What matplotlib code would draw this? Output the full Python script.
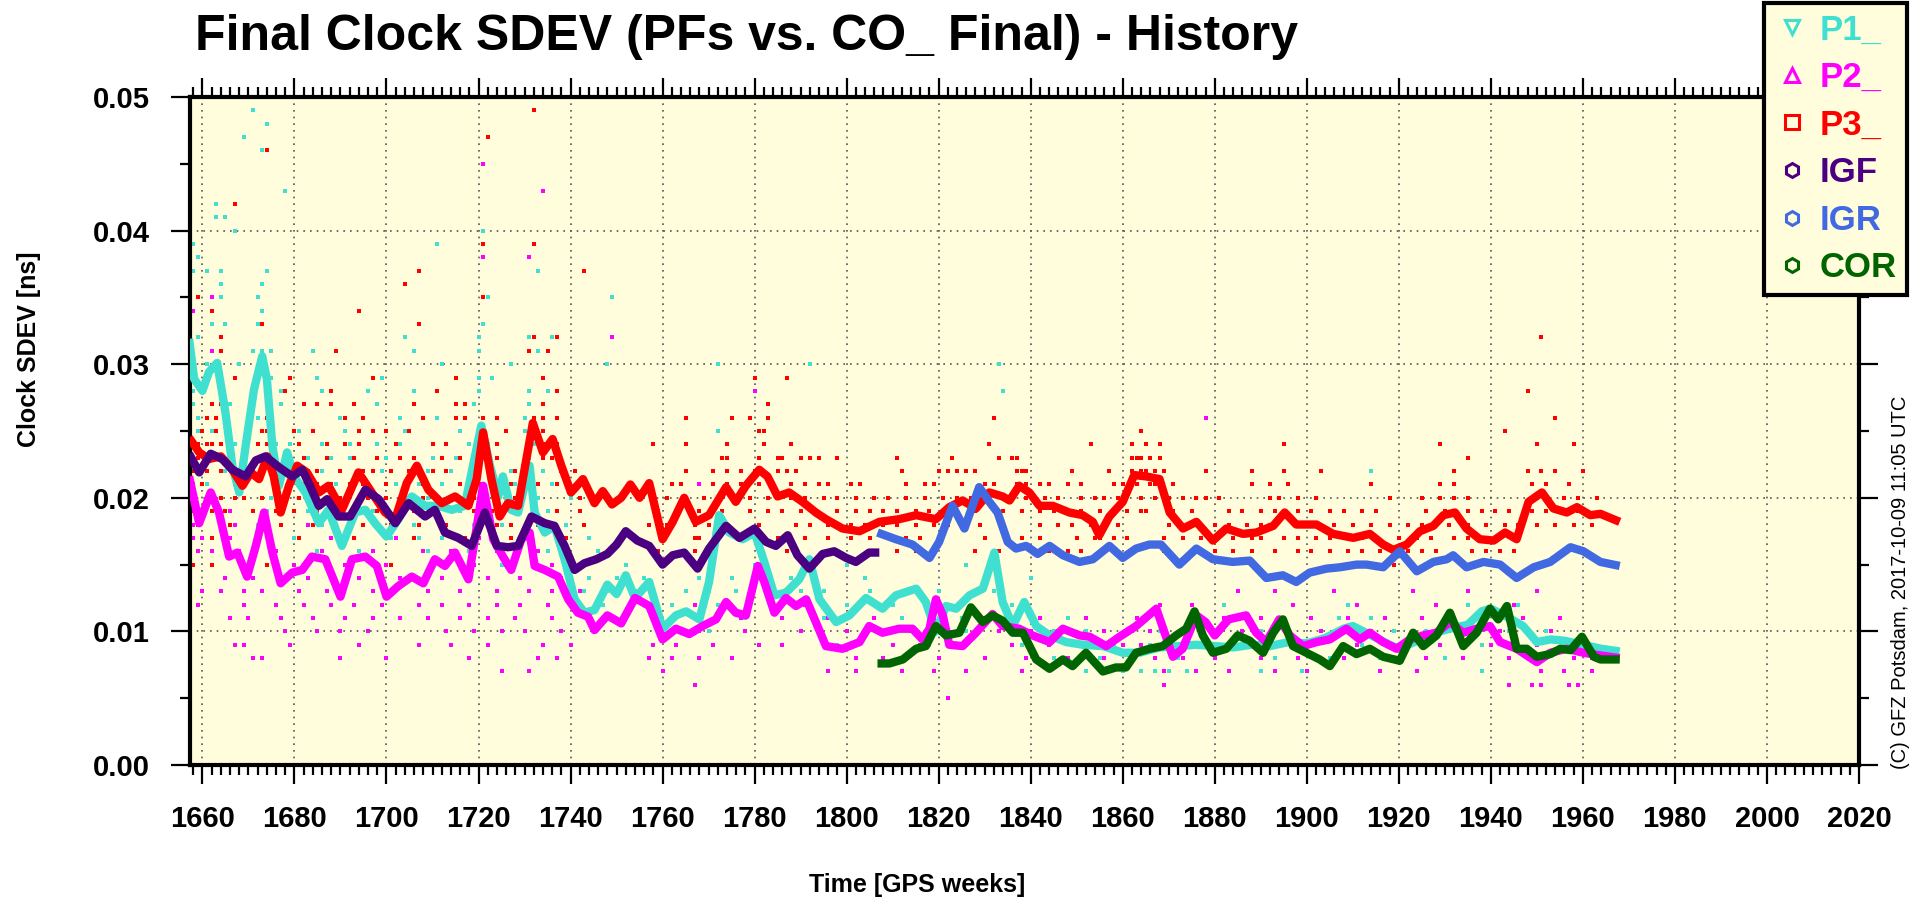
import numpy as np
import matplotlib
matplotlib.use("Agg")
import matplotlib.pyplot as plt
from matplotlib.lines import Line2D
from matplotlib.ticker import MultipleLocator, FormatStrFormatter

plt.rcParams['font.family'] = ['Liberation Sans', 'DejaVu Sans']

# ---- smoothed series (GPS week, clock SDEV [ns]) ----
p1_weeks = [1657.1, 1658.2, 1660, 1661.4, 1663.2, 1665, 1666.5, 1668, 1669.4, 1671.2, 1673, 1674, 1675.2,
            1676.6, 1678.4, 1679.9, 1682.4, 1685.3, 1687.4, 1690.3, 1693.2, 1695.4, 1697.5, 1700, 1702.6,
            1705.5, 1708.4, 1711.3, 1714.2, 1717, 1718.8, 1720.6, 1722.5, 1724.3, 1725.3, 1727.1, 1728.6,
            1731.1, 1732.2, 1734.4, 1736.5, 1738.7, 1740.9, 1743, 1745.2, 1748, 1750, 1752, 1754, 1757.1,
            1760, 1762.9, 1765.1, 1768, 1770.1, 1772.3, 1774.5, 1777.4, 1780, 1782.1, 1784.3, 1786.8,
            1789.7, 1791.9, 1794.1, 1797.7, 1800.6, 1804.2, 1807.8, 1810.7, 1815.1, 1817.2, 1819.4, 1821.6,
            1823.8, 1826.7, 1829.6, 1832.1, 1833.9, 1836.1, 1838.6, 1841.2, 1844.1, 1847.7, 1851.3, 1855.7,
            1860, 1863.6, 1868, 1872, 1876, 1880, 1884, 1888, 1892, 1896, 1900, 1904, 1908, 1910, 1914,
            1918, 1920, 1924, 1927, 1931, 1935, 1938, 1940, 1944, 1947, 1950, 1953, 1956, 1960, 1964, 1968]
p1_vals = [0.0319, 0.0289, 0.0280, 0.0294, 0.0301, 0.0264, 0.0224, 0.0204, 0.0239, 0.0281, 0.0306, 0.0289, 0.0239,
           0.0209, 0.0234, 0.0216, 0.0204, 0.0181, 0.0191, 0.0164, 0.0189, 0.0191, 0.0181, 0.0171, 0.0184,
           0.0201, 0.0194, 0.0194, 0.0191, 0.0194, 0.0224, 0.0254, 0.0224, 0.0201, 0.0216, 0.0191, 0.0189,
           0.0224, 0.0189, 0.0174, 0.0179, 0.0154, 0.0124, 0.0114, 0.0116, 0.0135, 0.0128, 0.0142, 0.0125, 0.0137,
           0.0102, 0.0112, 0.0115, 0.0109, 0.0137, 0.0187, 0.0174, 0.0169, 0.0174, 0.0152, 0.0127, 0.0129,
           0.0139, 0.0154, 0.0124, 0.0107, 0.0112, 0.0125, 0.0117, 0.0127, 0.0132, 0.0122, 0.0100, 0.0119,
           0.0117, 0.0127, 0.0132, 0.0159, 0.0122, 0.0104, 0.0122, 0.0104, 0.0097, 0.0092, 0.0090, 0.0089,
           0.0084, 0.0084, 0.0088, 0.0089, 0.0090, 0.0089, 0.0088, 0.0090, 0.0089, 0.0092, 0.0091, 0.0095, 0.0102, 0.0104, 0.0097,
           0.0090, 0.0087, 0.0093, 0.0098, 0.0102, 0.0105, 0.0115, 0.0117, 0.0110, 0.0104, 0.0092, 0.0094, 0.0093, 0.0090, 0.0087, 0.0085]

p2_weeks = [1657.1, 1659.3, 1661.8, 1663.6, 1665.8, 1667.6, 1669.7, 1671.6, 1673.4, 1675.2, 1677, 1679.5, 1681.7,
            1683.8, 1686.7, 1690, 1692.5, 1695.4, 1697.9, 1700, 1702.6, 1705.5, 1708, 1710.5, 1712.7, 1714.9,
            1717.8, 1719.2, 1721, 1723.2, 1725.3, 1727.1, 1729.3, 1731.1, 1732.2, 1734.4, 1737.3, 1739.5,
            1741.6, 1743.8, 1745.2, 1748, 1751, 1754, 1757.1, 1760, 1762.9, 1765.8, 1768.7, 1771.6, 1773.8,
            1775.9, 1778.1, 1780.7, 1782.1, 1784.3, 1786.8, 1789, 1791.2, 1793.3, 1795.5, 1799.1, 1802.8,
            1804.9, 1807.8, 1811.4, 1814.3, 1816.5, 1818, 1819.4, 1820.9, 1822.3, 1825.2, 1828.1, 1831.7,
            1833.9, 1837.5, 1840.4, 1844.1, 1847, 1850.6, 1852.8, 1856.4, 1859.3, 1862.9, 1867.3, 1870.9,
            1873, 1876, 1878, 1880, 1883, 1886.8, 1889, 1891.2, 1894, 1896.3, 1899.2, 1902.1, 1905, 1908.6,
            1911.5, 1913.7, 1916.6, 1919.5, 1922.4, 1925.3, 1928.2, 1931.1, 1934, 1936.9, 1939.8, 1942,
            1945.6, 1950, 1952.9, 1956.5, 1960.1, 1963.8, 1968]
p2_vals = [0.0216, 0.0181, 0.0204, 0.0189, 0.0156, 0.0159, 0.0141, 0.0164, 0.0189, 0.0159, 0.0136, 0.0144, 0.0146,
           0.0156, 0.0154, 0.0126, 0.0154, 0.0156, 0.0149, 0.0126, 0.0134, 0.0141, 0.0136, 0.0154, 0.0149, 0.0159,
           0.0139, 0.0169, 0.0209, 0.0169, 0.0156, 0.0146, 0.0169, 0.0174, 0.0149, 0.0146, 0.0141, 0.0124,
           0.0114, 0.0111, 0.0101, 0.0112, 0.0106, 0.0125, 0.0119, 0.0094, 0.0102, 0.0098, 0.0104, 0.0109, 0.0122,
           0.0114, 0.0112, 0.0149, 0.0137, 0.0114, 0.0125, 0.0119, 0.0124, 0.0107, 0.0089, 0.0087, 0.0092,
           0.0104, 0.0099, 0.0102, 0.0102, 0.0094, 0.0102, 0.0124, 0.0112, 0.0090, 0.0089, 0.0099, 0.0113,
           0.0104, 0.0102, 0.0097, 0.0092, 0.0102, 0.0097, 0.0096, 0.0089, 0.0096, 0.0104, 0.0117, 0.0081,
           0.0087, 0.0112, 0.0107, 0.0097, 0.0109, 0.0112, 0.0099, 0.0092, 0.0109, 0.0097, 0.0089, 0.0092, 0.0094, 0.0102,
           0.0094, 0.0099, 0.0092, 0.0087, 0.0094, 0.0097, 0.0099, 0.0107, 0.0099, 0.0102, 0.0104, 0.0092,
           0.0087, 0.0077, 0.0084, 0.0087, 0.0084, 0.0082, 0.0080]

p3_weeks = [1657.1, 1659.3, 1661.4, 1664, 1666.5, 1668.7, 1670.5, 1672.3, 1674.1, 1675.5, 1677, 1678.8, 1680.6,
            1682.7, 1685.3, 1687.4, 1690.3, 1693.9, 1696.8, 1699.7, 1701.9, 1704.4, 1706.6, 1709.1, 1712,
            1714.9, 1717.8, 1719.6, 1721, 1722.8, 1724.6, 1726.4, 1728.6, 1730.4, 1731.8, 1734, 1736.1, 1738,
            1740.1, 1742.7, 1745.2, 1747, 1749, 1751, 1753, 1755, 1757.1, 1760, 1762.2, 1764.7, 1767.2, 1770.1,
            1773.8, 1775.9, 1778.1, 1781, 1782.8, 1785, 1787.5, 1790.4, 1793.3, 1795.5, 1799.1, 1802.8,
            1807.1, 1811.4, 1815.1, 1819.4, 1822.3, 1825.2, 1828.1, 1831, 1833.9, 1835.4, 1837.5, 1839.7,
            1841.9, 1844.8, 1848.4, 1851.3, 1853.5, 1854.9, 1857.1, 1860, 1862.5, 1865.1, 1868, 1870.2,
            1873.1, 1876, 1879.6, 1882.5, 1886.1, 1889, 1892.7, 1895.2, 1897.7, 1902.1, 1905.7, 1910.1,
            1913.7, 1916.6, 1918.8, 1921.7, 1924.6, 1927.5, 1929.7, 1932.2, 1934.7, 1937.6, 1940.6, 1943.1,
            1945.6, 1948.2, 1951.1, 1953.6, 1956.5, 1958.7, 1961.6, 1963.8, 1968]
p3_vals = [0.0245, 0.0234, 0.0229, 0.0231, 0.0221, 0.0209, 0.0219, 0.0214, 0.0231, 0.0216, 0.0189, 0.0209, 0.0224,
           0.0219, 0.0204, 0.0209, 0.0191, 0.0219, 0.0204, 0.0189, 0.0184, 0.0211, 0.0224, 0.0206, 0.0196,
           0.0201, 0.0194, 0.0214, 0.0249, 0.0214, 0.0186, 0.0196, 0.0194, 0.0229, 0.0256, 0.0234, 0.0244, 0.0224,
           0.0204, 0.0214, 0.0196, 0.0205, 0.0195, 0.0200, 0.0210, 0.0200, 0.0211, 0.0169, 0.0182, 0.0200, 0.0182, 0.0187,
           0.0208, 0.0197, 0.0209, 0.0221, 0.0216, 0.0201, 0.0204, 0.0197, 0.0189, 0.0184, 0.0177, 0.0175,
           0.0182, 0.0184, 0.0187, 0.0184, 0.0193, 0.0198, 0.0192, 0.0204, 0.0201, 0.0198, 0.0209, 0.0204,
           0.0194, 0.0194, 0.0189, 0.0187, 0.0182, 0.0172, 0.0186, 0.0197, 0.0217, 0.0216, 0.0214, 0.0189,
           0.0177, 0.0182, 0.0168, 0.0177, 0.0173, 0.0174, 0.0179, 0.0189, 0.0180, 0.0180, 0.0173, 0.0170,
           0.0173, 0.0165, 0.0161, 0.0165, 0.0175, 0.0179, 0.0187, 0.0189, 0.0177, 0.0169, 0.0168, 0.0174,
           0.0169, 0.0197, 0.0204, 0.0192, 0.0189, 0.0193, 0.0187, 0.0188, 0.0182]

igf_weeks = [1657.1, 1659.3, 1661.8, 1664.3, 1666.5, 1669.4, 1671.6, 1673.7, 1676.6, 1679.5, 1681.7, 1683.1,
             1685.3, 1687.1, 1689.6, 1692.1, 1695.4, 1698.3, 1701.9, 1704.8, 1708.4, 1710.5, 1712.7, 1715.6,
             1718.5, 1721.4, 1724, 1726.4, 1728.6, 1731.5, 1734.4, 1736.5, 1738.7, 1740.9, 1743, 1745.6,
             1748, 1750, 1752, 1754.5, 1757.1, 1760, 1762.2, 1764.7, 1767.6, 1770.1, 1773.8, 1776.7, 1780,
             1782.5, 1784.6, 1787.2, 1789.3, 1791.9, 1794.8, 1797.3, 1799.9, 1802, 1804.9, 1807.1]
igf_vals = [0.0233, 0.0219, 0.0233, 0.0229, 0.0221, 0.0216, 0.0228, 0.0231, 0.0223, 0.0216, 0.0221, 0.0211,
            0.0194, 0.0199, 0.0186, 0.0186, 0.0206, 0.0199, 0.0181, 0.0196, 0.0186, 0.0191, 0.0174, 0.0170,
            0.0164, 0.0189, 0.0164, 0.0163, 0.0164, 0.0186, 0.0181, 0.0179, 0.0164, 0.0146, 0.0151, 0.0154,
            0.0158, 0.0165, 0.0175, 0.0168, 0.0164, 0.0150, 0.0157, 0.0159, 0.0147, 0.0162, 0.0179, 0.0170, 0.0177,
            0.0167, 0.0164, 0.0172, 0.0157, 0.0147, 0.0158, 0.0160, 0.0155, 0.0152, 0.0159, 0.0159]

igr_weeks = [1806.7, 1810.7, 1814.3, 1818, 1820.1, 1823, 1825.6, 1828.8, 1831, 1832.8, 1835, 1836.8, 1839,
             1841.5, 1844.1, 1847, 1850.6, 1853.5, 1857.1, 1860, 1862.9, 1865.8, 1868.3, 1872.3, 1876,
             1879.6, 1883.9, 1887.6, 1891.2, 1894.8, 1897.7, 1900.6, 1904.3, 1907.2, 1910.8, 1913, 1916.6,
             1920.2, 1923.9, 1927.5, 1930.4, 1931.8, 1934.7, 1938.4, 1942, 1945.6, 1949.3, 1952.9, 1957.3,
             1960.1, 1963.8, 1968]
igr_vals = [0.0174, 0.0169, 0.0165, 0.0155, 0.0167, 0.0194, 0.0177, 0.0208, 0.0197, 0.0189, 0.0167, 0.0162, 0.0164,
            0.0158, 0.0164, 0.0157, 0.0152, 0.0154, 0.0164, 0.0155, 0.0162, 0.0165, 0.0165, 0.0150, 0.0162,
            0.0154, 0.0152, 0.0153, 0.0140, 0.0142, 0.0137, 0.0144, 0.0147, 0.0148, 0.0150, 0.0150, 0.0148,
            0.0160, 0.0145, 0.0152, 0.0154, 0.0157, 0.0148, 0.0152, 0.0150, 0.0140, 0.0148, 0.0152, 0.0163,
            0.0160, 0.0152, 0.0149]

cor_weeks = [1806.7, 1809.3, 1812.2, 1815.1, 1817.2, 1819.4, 1821.6, 1824.5, 1827, 1829.6, 1831.7, 1833.9,
             1836.1, 1838.3, 1841.2, 1844.1, 1847, 1849.1, 1852, 1855.7, 1858.5, 1860.7, 1862.9, 1865.8,
             1868.7, 1871.6, 1873.8, 1875.6, 1877.4, 1879.6, 1882.5, 1885, 1887.6, 1890.5, 1892.7, 1894.8,
             1897, 1899.9, 1902.8, 1905, 1907.9, 1910.8, 1913.7, 1916.6, 1920.2, 1923.1, 1925.3, 1928.2,
             1931.1, 1934, 1936.9, 1939.8, 1941.6, 1943.5, 1945.6, 1947.8, 1950, 1952.9, 1955.1, 1957.3,
             1959.8, 1962.4, 1963.8, 1968]
cor_vals = [0.0076, 0.0076, 0.0079, 0.0087, 0.0089, 0.0104, 0.0097, 0.0099, 0.0118, 0.0107, 0.0112, 0.0108,
            0.0099, 0.0099, 0.0079, 0.0072, 0.0079, 0.0074, 0.0084, 0.0070, 0.0073, 0.0073, 0.0084, 0.0087,
            0.0089, 0.0097, 0.0102, 0.0115, 0.0097, 0.0084, 0.0087, 0.0097, 0.0093, 0.0084, 0.0099, 0.0109,
            0.0089, 0.0084, 0.0079, 0.0074, 0.0089, 0.0083, 0.0087, 0.0081, 0.0078, 0.0099, 0.0089, 0.0097,
            0.0114, 0.0089, 0.0099, 0.0117, 0.0109, 0.0119, 0.0087, 0.0087, 0.0081, 0.0083, 0.0087, 0.0086,
            0.0096, 0.0081, 0.0079, 0.0079]

# ---- daily values (value -> GPS weeks where a dot is shown) ----
p1_dots = {
    0.049: [1671], 0.048: [1674], 0.047: [1669], 0.046: [1673], 0.043: [1678],
    0.042: [1663], 0.041: [1663, 1665], 0.040: [1667, 1721], 0.039: [1658, 1711],
    0.038: [1659], 0.037: [1658, 1661, 1664, 1674, 1733], 0.036: [1664, 1673],
    0.035: [1664, 1672, 1722, 1749], 0.034: [1673], 0.033: [1662, 1662, 1665, 1672, 1721],
    0.032: [1659, 1704, 1720, 1731, 1736], 0.031: [1671, 1673, 1675, 1684, 1706, 1720, 1733],
    0.030: [1658, 1661, 1668, 1712, 1727, 1748, 1772, 1792, 1833],
    0.029: [1658, 1661, 1672, 1675, 1685, 1699, 1720, 1723],
    0.028: [1658, 1660, 1677, 1686, 1696, 1706, 1720, 1731, 1735, 1834],
    0.027: [1658, 1662, 1666, 1677, 1682, 1698, 1719, 1731],
    0.026: [1659, 1672, 1690, 1703, 1711, 1721, 1730, 1832],
    0.025: [1659, 1662, 1666, 1681, 1691, 1697, 1704, 1716, 1720, 1730, 1772],
    0.024: [1658, 1667, 1676, 1679, 1686, 1692, 1698, 1703, 1718, 1722, 1732, 1831],
    0.023: [1662, 1669, 1674, 1683, 1688, 1692, 1700, 1710, 1715, 1724, 1731],
    0.022: [1658, 1661, 1665, 1671, 1680, 1686, 1694, 1699, 1709, 1714, 1720, 1727, 1734, 1914],
    0.021: [1661, 1669, 1676, 1684, 1689, 1696, 1702, 1707, 1712, 1718, 1723, 1728, 1736, 1742],
    0.020: [1664, 1675, 1681, 1688, 1694, 1700, 1706, 1709, 1715, 1721, 1726, 1733, 1740],
    0.019: [1666, 1674, 1683, 1689, 1697, 1704, 1711, 1716, 1722, 1729, 1735, 1742],
    0.018: [1672, 1686, 1695, 1701, 1706, 1713, 1719, 1725, 1731, 1739],
    0.017: [1680, 1690, 1701, 1707, 1712, 1720, 1730, 1744],
    0.016: [1685, 1694, 1709, 1718, 1735, 1746],
    0.015: [1700, 1725, 1740, 1752, 1780, 1800, 1826],
    0.014: [1744, 1750, 1756, 1768, 1775, 1788, 1804, 1830, 1840],
    0.013: [1743, 1748, 1754, 1765, 1770, 1776, 1790, 1795, 1805, 1815, 1820, 1832],
    0.012: [1742, 1747, 1753, 1762, 1772, 1784, 1800, 1810, 1822, 1836, 1882, 1909, 1935, 1946],
    0.011: [1762, 1778, 1795, 1812, 1825, 1840, 1848, 1883, 1895, 1907, 1914, 1937],
    0.010: [1770, 1790, 1808, 1826, 1845, 1852, 1868, 1890, 1911, 1919, 1926, 1944, 1952],
    0.009: [1798, 1818, 1838, 1850, 1858, 1866, 1876, 1886, 1898, 1912, 1922, 1938, 1957],
    0.008: [1845, 1855, 1862, 1872, 1880, 1893, 1905, 1916, 1930, 1950, 1962],
    0.007: [1852, 1860, 1864, 1867, 1870, 1874, 1890, 1899, 1938, 1951],
}

p2_dots = {
    0.045: [1721], 0.043: [1734], 0.038: [1721, 1731], 0.035: [1662], 0.034: [1658],
    0.032: [1749], 0.031: [1662, 1735], 0.028: [1780], 0.026: [1878], 0.021: [1768],
    0.020: [1657], 0.019: [1657, 1666], 0.018: [1658, 1667, 1683],
    0.017: [1658, 1660, 1666, 1675, 1688, 1702, 1720],
    0.016: [1659, 1662, 1668, 1676, 1686, 1697, 1708, 1714, 1724, 1733],
    0.015: [1662, 1669, 1674, 1680, 1691, 1700, 1710, 1719, 1726, 1736],
    0.014: [1665, 1671, 1677, 1683, 1694, 1703, 1706, 1712, 1722, 1729, 1738],
    0.013: [1660, 1664, 1669, 1673, 1681, 1687, 1690, 1697, 1701, 1709, 1716, 1724, 1731, 1736, 1742,
            1885, 1893, 1906, 1923, 1935, 1950],
    0.012: [1659, 1669, 1676, 1682, 1688, 1693, 1699, 1707, 1712, 1718, 1724, 1729, 1735, 1742,
            1767, 1774, 1791, 1868, 1875, 1897, 1911, 1928, 1945],
    0.011: [1666, 1670, 1677, 1684, 1691, 1697, 1703, 1709, 1716, 1722, 1728, 1736, 1744, 1762, 1777,
            1786, 1796, 1806, 1818, 1830, 1842, 1852, 1863, 1876, 1882, 1890, 1901, 1909, 1917, 1925,
            1937, 1947, 1955],
    0.010: [1678, 1685, 1690, 1696, 1713, 1719, 1725, 1730, 1738, 1745, 1760, 1768, 1778, 1790, 1800,
            1808, 1814, 1822, 1833, 1840, 1846, 1856, 1862, 1866, 1874, 1886, 1903, 1914, 1931, 1942, 1953],
    0.009: [1667, 1669, 1679, 1694, 1707, 1714, 1722, 1734, 1740, 1758, 1763, 1771, 1781, 1786, 1795,
            1802, 1810, 1816, 1826, 1836, 1844, 1850, 1860, 1864, 1870, 1880, 1892, 1900, 1911, 1920,
            1929, 1940, 1950, 1960],
    0.008: [1671, 1673, 1690, 1700, 1718, 1733, 1737, 1757, 1762, 1768, 1775, 1802, 1808, 1820, 1830,
            1839, 1848, 1856, 1867, 1873, 1880, 1890, 1898, 1908, 1918, 1926, 1934, 1944, 1952, 1958, 1962],
    0.007: [1725, 1731, 1760, 1796, 1802, 1812, 1819, 1826, 1838, 1869, 1876, 1883, 1893, 1900, 1916,
            1924, 1951, 1956, 1962],
    0.006: [1767, 1869, 1944, 1949, 1951, 1957, 1959],
    0.005: [1822],
}

p3_dots = {
    0.049: [1732], 0.047: [1722], 0.046: [1674], 0.042: [1667], 0.039: [1721, 1732],
    0.037: [1707, 1743], 0.036: [1704], 0.035: [1659, 1721], 0.034: [1662, 1694],
    0.033: [1673, 1707], 0.032: [1664, 1732, 1737, 1951], 0.031: [1664, 1689, 1731, 1735],
    0.029: [1667, 1679, 1697, 1715, 1734, 1780, 1787],
    0.028: [1678, 1688, 1711, 1737, 1948],
    0.027: [1662, 1664, 1682, 1685, 1688, 1693, 1706, 1715, 1717, 1734, 1783],
    0.026: [1661, 1663, 1674, 1691, 1695, 1708, 1715, 1717, 1721, 1724, 1732, 1734, 1737, 1765, 1775,
            1779, 1783, 1832, 1954],
    0.025: [1660, 1663, 1673, 1674, 1680, 1684, 1694, 1697, 1700, 1705, 1721, 1726, 1732, 1734, 1781,
            1782, 1864, 1943],
    0.024: [1659, 1661, 1662, 1664, 1672, 1674, 1681, 1687, 1691, 1694, 1702, 1710, 1713, 1720, 1724,
            1734, 1737, 1758, 1765, 1774, 1782, 1788, 1831, 1853, 1862, 1865, 1868, 1895, 1929, 1950, 1958],
    0.023: [1658, 1659, 1662, 1666, 1669, 1673, 1679, 1682, 1687, 1693, 1698, 1703, 1706, 1712, 1716,
            1720, 1724, 1730, 1734, 1736, 1773, 1774, 1781, 1785, 1786, 1790, 1792, 1794, 1798, 1811,
            1823, 1833, 1836, 1837, 1862, 1863, 1864, 1866, 1868, 1935],
    0.022: [1658, 1661, 1664, 1671, 1676, 1679, 1683, 1685, 1690, 1695, 1697, 1701, 1705, 1710, 1713,
            1719, 1723, 1728, 1731, 1738, 1741, 1765, 1771, 1774, 1777, 1780, 1785, 1787, 1789, 1812,
            1820, 1822, 1824, 1826, 1828, 1837, 1838, 1839, 1849, 1857, 1862, 1864, 1865, 1867, 1869,
            1878, 1888, 1895, 1903, 1932, 1948, 1951, 1954, 1960],
    0.021: [1658, 1660, 1667, 1677, 1682, 1685, 1688, 1692, 1695, 1700, 1704, 1708, 1716, 1720, 1724,
            1727, 1733, 1737, 1742, 1762, 1764, 1771, 1774, 1777, 1781, 1784, 1788, 1791, 1794, 1796,
            1801, 1803, 1813, 1817, 1819, 1825, 1830, 1832, 1837, 1839, 1842, 1844, 1848, 1851, 1858,
            1860, 1863, 1866, 1867, 1871, 1888, 1892, 1896, 1914, 1929, 1932, 1949, 1952, 1957],
    0.020: [1658, 1662, 1664, 1667, 1669, 1673, 1681, 1685, 1690, 1696, 1700, 1705, 1708, 1715, 1719,
            1724, 1728, 1732, 1742, 1758, 1761, 1769, 1772, 1775, 1779, 1783, 1788, 1791, 1795, 1798,
            1802, 1806, 1809, 1813, 1817, 1821, 1824, 1827, 1834, 1839, 1843, 1846, 1851, 1854, 1856,
            1859, 1864, 1867, 1870, 1873, 1876, 1878, 1881, 1892, 1894, 1898, 1902, 1918, 1925, 1929,
            1932, 1935, 1956, 1959, 1963],
    0.019: [1658, 1662, 1665, 1671, 1676, 1680, 1685, 1690, 1693, 1698, 1702, 1706, 1710, 1714, 1719,
            1723, 1727, 1732, 1737, 1742, 1759, 1763, 1768, 1773, 1779, 1783, 1786, 1790, 1793, 1798,
            1802, 1805, 1808, 1811, 1815, 1818, 1823, 1828, 1834, 1838, 1842, 1845, 1849, 1851, 1855,
            1858, 1861, 1864, 1865, 1871, 1875, 1883, 1886, 1890, 1893, 1898, 1901, 1905, 1908, 1912,
            1915, 1926, 1930, 1935, 1938, 1941, 1944, 1949, 1952, 1955, 1959],
    0.018: [1659, 1666, 1677, 1684, 1689, 1695, 1701, 1707, 1713, 1720, 1724, 1727, 1733, 1743, 1757,
            1761, 1767, 1770, 1773, 1781, 1789, 1792, 1796, 1801, 1804, 1808, 1811, 1815, 1819, 1822,
            1826, 1829, 1834, 1842, 1846, 1849, 1853, 1859, 1870, 1874, 1877, 1880, 1883, 1887, 1890,
            1892, 1898, 1901, 1906, 1910, 1914, 1918, 1922, 1925, 1931, 1935, 1939, 1943, 1946, 1950,
            1954, 1958, 1962],
    0.017: [1662, 1672, 1681, 1693, 1706, 1717, 1727, 1739, 1767, 1768, 1782, 1785, 1791, 1796, 1801,
            1805, 1809, 1813, 1816, 1820, 1830, 1838, 1842, 1850, 1854, 1855, 1858, 1861, 1869, 1873,
            1877, 1880, 1884, 1888, 1890, 1895, 1898, 1902, 1905, 1909, 1912, 1915, 1920, 1924, 1927,
            1932, 1935, 1939, 1942, 1946],
    0.016: [1759, 1767, 1787, 1811, 1815, 1828, 1833, 1844, 1848, 1851, 1869, 1880, 1884, 1888, 1893,
            1898, 1901, 1905, 1909, 1912, 1916, 1922, 1925, 1928, 1936, 1939, 1942, 1945],
    0.015: [1658, 1662, 1669, 1674, 1701, 1919],
}

series = [
    ('P1_', 'v', '#40E0D0', p1_weeks, p1_vals, p1_dots),
    ('P2_', '^', '#FF00FF', p2_weeks, p2_vals, p2_dots),
    ('P3_', 's', '#FF0000', p3_weeks, p3_vals, p3_dots),
    ('IGF', 'h', '#4B0082', igf_weeks, igf_vals, None),
    ('IGR', 'h', '#4169E1', igr_weeks, igr_vals, None),
    ('COR', 'h', '#006400', cor_weeks, cor_vals, None),
]

bg = '#FFFDDC'
fig = plt.figure(figsize=(19.2, 9.06), dpi=100)
ax = fig.add_axes([190 / 1920, 1 - 765 / 906, (1859 - 190) / 1920, (765 - 97) / 906])
ax.set_facecolor(bg)

# daily dots first, smoothed lines on top
for name, mk, col, wk, vals, dots in series:
    if dots is None:
        continue
    xs, ys = [], []
    for v, weeks in dots.items():
        xs += weeks
        ys += [v] * len(weeks)
    ax.plot(xs, ys, 's', color=col, markersize=2.6, markeredgewidth=0, zorder=2)

for name, mk, col, wk, vals, dots in series:
    ax.plot(wk, vals, '-', color=col, linewidth=6, solid_capstyle='butt', zorder=3)

ax.set_xlim(1657.3, 2020)
ax.set_ylim(0, 0.05)
ax.xaxis.set_major_locator(MultipleLocator(20))
ax.xaxis.set_minor_locator(MultipleLocator(2))
ax.yaxis.set_major_locator(MultipleLocator(0.01))
ax.yaxis.set_minor_locator(MultipleLocator(0.005))
ax.yaxis.set_major_formatter(FormatStrFormatter('%.2f'))
ax.grid(True, which='major', color='#555555', linestyle=(0, (1, 3)), linewidth=1.2, zorder=1)
ax.set_axisbelow(True)

for s in ax.spines.values():
    s.set_linewidth(3)
ax.tick_params(which='both', direction='out', top=True, right=True, width=1.6)
ax.tick_params(which='major', length=14, labelsize=21, pad=15)
ax.tick_params(which='minor', length=7)
for lab in ax.get_xticklabels() + ax.get_yticklabels():
    lab.set_fontweight('bold')

fig.text(195 / 1920, 1 - 50 / 906, 'Final Clock SDEV (PFs vs. CO_ Final) - History',
         fontsize=36, fontweight='bold', ha='left', va='baseline')
fig.text(29 / 1920, 1 - 349 / 906, 'Clock SDEV [ns]', fontsize=18, fontweight='bold',
         rotation=90, ha='center', va='center')
fig.text(917 / 1920, 1 - 885 / 906, 'Time [GPS weeks]', fontsize=18, fontweight='bold',
         ha='center', va='center')
fig.text(1900 / 1920, 1 - 769 / 906, '(C) GFZ Potsdam, 2017-10-09 11:05 UTC', fontsize=14.5,
         rotation=90, ha='center', va='bottom')

handles = [Line2D([], [], marker=mk, linestyle='none', markerfacecolor='none', markeredgecolor=col,
                  markersize=10, markeredgewidth=2.2) for name, mk, col, wk, vals, dots in series]
labels = [name for name, mk, col, wk, vals, dots in series]
leg = fig.legend(handles, labels, loc='upper right', bbox_to_anchor=(1907 / 1920, 1 - 3 / 906),
                 borderaxespad=0, frameon=True, fancybox=False, facecolor=bg, edgecolor='black',
                 framealpha=1, labelcolor=[s[2] for s in series], prop={'weight': 'bold', 'size': 25},
                 handletextpad=0.3, handlelength=1.0, labelspacing=0.42, borderpad=0.3)
leg.get_frame().set_linewidth(3)

fig.savefig('out.png', dpi=100, facecolor='white')
